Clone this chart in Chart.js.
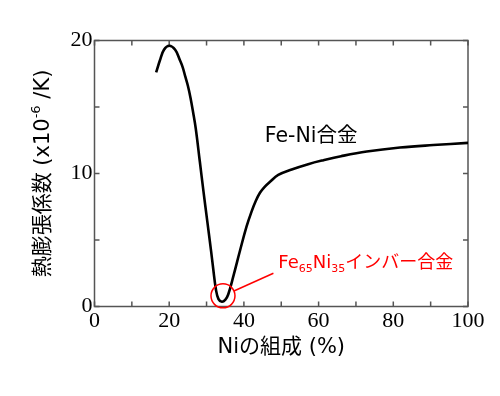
<!DOCTYPE html>
<html>
<head>
<meta charset="utf-8">
<script src="https://cdn.jsdelivr.net/npm/chart.js@4"></script>
<style>
  html, body { margin: 0; padding: 0; background: #fff; }
  canvas { display: block; }
</style>
</head>
<body>
<canvas id="grafico" width="500" height="396"></canvas>
<script>
// datos //
const niComp = [16.5, 17.5, 18.6, 20.0, 21.6, 22.9, 23.6, 24.3, 25.0, 25.7, 26.4, 27.1, 28.2, 29.2, 30.2, 31.2, 31.8, 32.5, 33.2, 34.1, 35.0, 35.8, 37.2, 39.0, 40.7, 42.0, 43.2, 44.3, 45.5, 47.0, 49.2, 52.8, 57.2, 61.3, 66.0, 72.9, 81.8, 90.7, 100.0];
const expansion = [17.6, 18.5, 19.3, 19.6, 19.3, 18.5, 18.0, 17.3, 16.6, 15.7, 14.6, 13.4, 10.9, 8.6, 6.4, 4.2, 2.8, 1.3, 0.55, 0.36, 0.5, 0.9, 2.3, 4.25, 6.0, 7.1, 7.95, 8.55, 8.98, 9.38, 9.89, 10.3, 10.7, 11.0, 11.3, 11.65, 11.95, 12.14, 12.3];

const xLabels = [0, 20, 40, 60, 80, 100];
const yLabels = [0, 10, 20];

const textoAleacion = "Fe-Ni合金";
const textoInvar = [["Fe", false], ["65", true], ["Ni", false], ["35", true], ["インバー合金", false]];
const tituloY = [["熱膨張係数 (x10", false], ["-6", true], [" /K)", false]];
const tituloX = "Niの組成 (%)";

// posiciones de las anotaciones en unidades de datos //
const puntoInvar = { x: 34.4, y: 0.8 };
const finLinea = { x: 47.9, y: 2.5 };
const posInvar = { x: 49.2, y: 2.9 };
const posAleacion = { x: 45.6, y: 12.4 };

const fuenteJP = "'DejaVu Sans', 'Noto Sans CJK JP', sans-serif";
const fuenteNum = "'Liberation Serif', 'DejaVu Serif', serif";

function medirPartes(ctx, partes, grande, chico) {
  let ancho = 0;
  partes.forEach(([t, esChico]) => {
    ctx.font = (esChico ? chico : grande) + "px " + fuenteJP;
    ancho += ctx.measureText(t).width;
  });
  return ancho;
}

function dibujarPartes(ctx, partes, x, y, grande, chico, desplaz) {
  let cx = x;
  partes.forEach(([t, esChico]) => {
    ctx.font = (esChico ? chico : grande) + "px " + fuenteJP;
    ctx.fillText(t, cx, esChico ? y + desplaz : y);
    cx += ctx.measureText(t).width;
  });
}

const marcoYAnotaciones = {
  id: "marco",
  beforeDatasetsDraw(chart) {
    const { ctx, chartArea: a, scales: { x, y } } = chart;
    ctx.save();
    ctx.strokeStyle = "#555";
    ctx.lineWidth = 1.5;
    ctx.strokeRect(a.left, a.top, a.right - a.left, a.bottom - a.top);
    ctx.beginPath();
    x.ticks.forEach(t => {
      const px = x.getPixelForValue(t.value);
      ctx.moveTo(px, a.bottom); ctx.lineTo(px, a.bottom - 5);
      ctx.moveTo(px, a.top); ctx.lineTo(px, a.top + 5);
    });
    y.ticks.forEach(t => {
      const py = y.getPixelForValue(t.value);
      ctx.moveTo(a.left, py); ctx.lineTo(a.left + 5, py);
      ctx.moveTo(a.right, py); ctx.lineTo(a.right - 5, py);
    });
    ctx.stroke();
    ctx.restore();
  },
  afterDatasetsDraw(chart) {
    const { ctx, chartArea: a, scales: { x, y } } = chart;
    ctx.save();

    // Titulo eje Y //
    ctx.fillStyle = "#000";
    ctx.textBaseline = "middle";
    const anchoY = medirPartes(ctx, tituloY, 21, 13);
    ctx.translate(44, (a.top + a.bottom) / 2);
    ctx.rotate(-Math.PI / 2);
    dibujarPartes(ctx, tituloY, -anchoY / 2, 0, 21, 13, -7);
    ctx.setTransform(1, 0, 0, 1, 0, 0);

    // Fe-Ni合金 //
    ctx.textBaseline = "alphabetic";
    ctx.font = "20.5px " + fuenteJP;
    ctx.fillText(textoAleacion, x.getPixelForValue(posAleacion.x), y.getPixelForValue(posAleacion.y));

    // Invar //
    const cx = x.getPixelForValue(puntoInvar.x);
    const cy = y.getPixelForValue(puntoInvar.y);
    const r = 12;
    const lx = x.getPixelForValue(finLinea.x);
    const ly = y.getPixelForValue(finLinea.y);
    const ang = Math.atan2(ly - cy, lx - cx);
    ctx.strokeStyle = "#f00";
    ctx.lineWidth = 1.5;
    ctx.beginPath();
    ctx.arc(cx, cy, r, 0, Math.PI * 2);
    ctx.stroke();
    ctx.beginPath();
    ctx.moveTo(cx + r * Math.cos(ang), cy + r * Math.sin(ang));
    ctx.lineTo(lx, ly);
    ctx.stroke();
    ctx.fillStyle = "#f00";
    dibujarPartes(ctx, textoInvar, x.getPixelForValue(posInvar.x), y.getPixelForValue(posInvar.y), 18, 11, 4);

    ctx.restore();
  }
};

new Chart(document.getElementById("grafico"), {
  type: "line",
  data: {
    datasets: [{
      data: niComp.map((v, i) => ({ x: v, y: expansion[i] })),
      borderColor: "#000",
      borderWidth: 2.6,
      pointRadius: 0,
      tension: 0.4,
      fill: false
    }]
  },
  options: {
    responsive: false,
    animation: false,
    layout: { padding: { top: 40.5, right: 32, left: 0, bottom: 0 } },
    plugins: { legend: { display: false }, tooltip: { enabled: false } },
    scales: {
      x: {
        type: "linear",
        min: 0,
        max: 100,
        afterFit: (s) => { s.height = 89.5; },
        grid: { display: false, drawTicks: false },
        border: { display: false },
        ticks: {
          stepSize: 10,
          autoSkip: false,
          maxRotation: 0,
          padding: 2,
          color: "#000",
          font: { family: fuenteNum, size: 22 },
          callback: (v) => xLabels.includes(v) ? String(v) : ""
        },
        title: {
          display: true,
          text: tituloX,
          color: "#000",
          font: { family: fuenteJP, size: 21 },
          padding: { top: 0, bottom: 35.5 }
        }
      },
      y: {
        min: 0,
        max: 20,
        afterFit: (s) => { s.width = 94.5; },
        grid: { display: false, drawTicks: false },
        border: { display: false },
        ticks: {
          stepSize: 5,
          autoSkip: false,
          padding: 2,
          color: "#000",
          font: { family: fuenteNum, size: 22 },
          callback: (v) => yLabels.includes(v) ? String(v) : ""
        }
      }
    }
  },
  plugins: [marcoYAnotaciones]
});
</script>
</body>
</html>
